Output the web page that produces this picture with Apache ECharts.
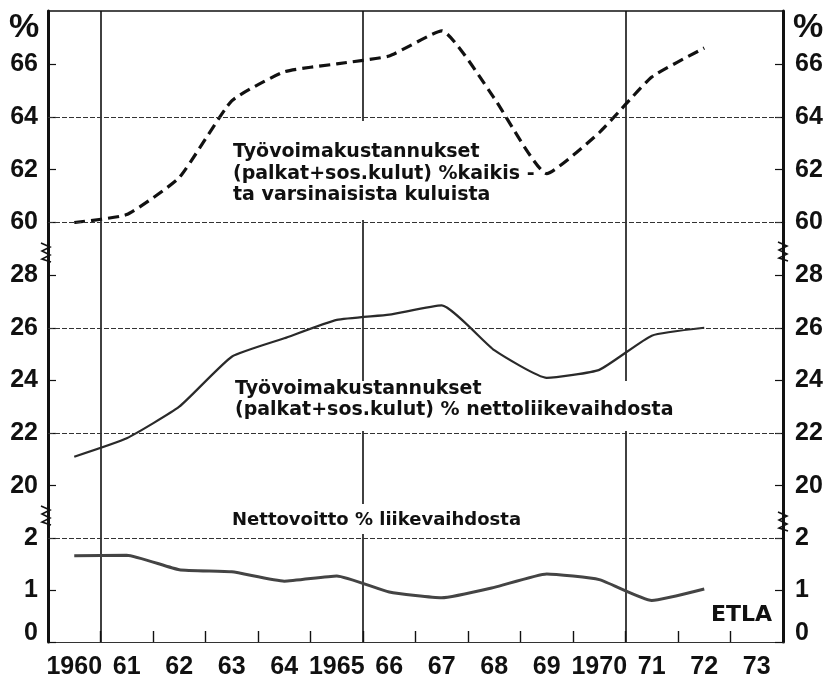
<!DOCTYPE html>
<html>
<head>
<meta charset="utf-8">
<script src="https://cdn.jsdelivr.net/npm/echarts@6/dist/echarts.min.js"></script>
<style>html,body{margin:0;padding:0;background:#fff}#c{width:828px;height:680px}</style>
</head>
<body>
<div id="c"></div>
<script>
// ---- data ----
const years = ['1960','1961','1962','1963','1964','1965','1966','1967','1968','1969','1970','1971','1972','1973'];
const yearLabels = ['1960','61','62','63','64','1965','66','67','68','69','1970','71','72','73'];
const kustannuksetKuluista = [60.0, 60.3, 61.7, 64.6, 65.7, 66.0, 66.3, 67.25, 64.7, 61.85, 63.4, 65.5, 66.6];
const kustannuksetLiikevaihdosta = [21.1, 21.8, 23.0, 24.9, 25.6, 26.3, 26.5, 26.85, 25.15, 24.1, 24.4, 25.7, 26.0];
const nettovoitto = [1.66, 1.67, 1.39, 1.35, 1.17, 1.27, 0.96, 0.85, 1.05, 1.31, 1.2, 0.8, 1.02];
const topTicks = [60, 62, 64, 66];
const midTicks = [20, 22, 24, 26, 28];
const botTicks = [0, 1, 2];
const topGridLines = [60, 64];
const midGridLines = [22, 26];
const botGridLines = [2];
const topRange = [60, 68];
const midRange = [19, 30];
const botRange = [0, 2.5];
const fullYearLines = [1, 6, 11]; // category boundaries with full vertical lines

const chart = echarts.init(document.getElementById('c'), null, {renderer: 'canvas'});
const NUM = '"Liberation Sans","Arial",sans-serif';
const TXT = '"DejaVu Sans",sans-serif';
const INK = '#111';
const NUM_SIZE = 25;

function xAx(gi, opts) {
  return Object.assign({
    type: 'category', gridIndex: gi, data: years, boundaryGap: true,
    axisLine: {show: false}, axisTick: {show: false}, axisLabel: {show: false},
    splitLine: {show: true, interval: (i) => fullYearLines.includes(i), lineStyle: {color: INK, width: 1.6}}
  }, opts);
}
function yAx(gi, pos, range, ticks) {
  return {
    type: 'value', gridIndex: gi, position: pos, min: range[0], max: range[1],
    axisLine: {show: true, onZero: false, lineStyle: {color: INK, width: 3}},
    axisTick: {show: true, inside: true, length: 8, customValues: ticks, lineStyle: {color: INK, width: 1.2}},
    axisLabel: {
      show: true, customValues: ticks, margin: pos === 'left' ? 10 : 12,
      fontFamily: NUM, fontWeight: 'bold', fontSize: NUM_SIZE, color: INK,
      formatter: (v) => (gi === 2 && v === 0) ? '{z|0}' : String(v),
      rich: {z: {fontFamily: NUM, fontWeight: 'bold', fontSize: NUM_SIZE, color: INK, padding: [0, 0, 18, 0]}}
    },
    splitLine: {show: false}
  };
}
function gridMark(vals) {
  return {
    silent: true, symbol: 'none', label: {show: false},
    lineStyle: {color: '#333', width: 1.2, type: [5, 2]},
    data: vals.map(v => ({yAxis: v}))
  };
}

const option = {
  animation: false,
  backgroundColor: '#fff',
  grid: [
    {left: 48, right: 45, top: 11, height: 211.5},
    {left: 48, right: 45, top: 222.5, height: 289.5},
    {left: 48, right: 45, top: 512, height: 133}
  ],
  xAxis: [
    xAx(0, {position: 'top', axisLine: {show: true, lineStyle: {color: INK, width: 1.5}}}),
    xAx(1, {}),
    xAx(2, {
      position: 'bottom',
      axisLine: {show: true, lineStyle: {color: '#333', width: 1.2}},
      axisTick: {show: true, inside: true, length: 11, interval: 0, lineStyle: {color: INK, width: 1.4}},
      axisLabel: {show: true, interval: 0, margin: 13, fontFamily: NUM, fontWeight: 'bold', fontSize: NUM_SIZE, color: INK,
        formatter: (v, i) => yearLabels[i]}
    })
  ],
  yAxis: [
    yAx(0, 'left', topRange, topTicks), yAx(0, 'right', topRange, topTicks),
    yAx(1, 'left', midRange, midTicks), yAx(1, 'right', midRange, midTicks),
    yAx(2, 'left', botRange, botTicks), yAx(2, 'right', botRange, botTicks)
  ],
  series: [
    {type: 'line', xAxisIndex: 0, yAxisIndex: 0, data: kustannuksetKuluista, symbol: 'none', smooth: 0.15,
     lineStyle: {color: INK, width: 3.2, type: [11, 6]}, markLine: gridMark(topGridLines), z: 3},
    {type: 'line', xAxisIndex: 1, yAxisIndex: 2, data: kustannuksetLiikevaihdosta, symbol: 'none', smooth: 0.15,
     lineStyle: {color: '#2a2a2a', width: 2.2}, markLine: gridMark(midGridLines), z: 3},
    {type: 'line', xAxisIndex: 2, yAxisIndex: 4, data: nettovoitto, symbol: 'none', smooth: 0.15,
     lineStyle: {color: '#444', width: 3}, markLine: gridMark(botGridLines), z: 3}
  ],
  graphic: [
    // white areas behind the annotation texts
    {type: 'rect', z: 50, shape: {x: 228, y: 121, width: 268, height: 99}, style: {fill: '#fff'}},
    {type: 'rect', z: 50, shape: {x: 228, y: 381, width: 462, height: 50}, style: {fill: '#fff'}},
    {type: 'rect', z: 50, shape: {x: 228, y: 504, width: 326, height: 30}, style: {fill: '#fff'}},
    {type: 'text', z: 60, style: {x: 233, y: 152, text: 'Työvoimakustannukset', font: 'bold 19px ' + TXT, fill: INK, verticalAlign: 'middle'}},
    {type: 'text', z: 60, style: {x: 233, y: 174, text: '(palkat+sos.kulut) %kaikis -', font: 'bold 19px ' + TXT, fill: INK, verticalAlign: 'middle'}},
    {type: 'text', z: 60, style: {x: 233, y: 195, text: 'ta varsinaisista kuluista', font: 'bold 19px ' + TXT, fill: INK, verticalAlign: 'middle'}},
    {type: 'text', z: 60, style: {x: 235, y: 389, text: 'Työvoimakustannukset', font: 'bold 19px ' + TXT, fill: INK, verticalAlign: 'middle'}},
    {type: 'text', z: 60, style: {x: 235, y: 410, text: '(palkat+sos.kulut) % nettoliikevaihdosta', font: 'bold 19px ' + TXT, fill: INK, verticalAlign: 'middle'}},
    {type: 'text', z: 60, style: {x: 232, y: 520, text: 'Nettovoitto % liikevaihdosta', font: 'bold 18px ' + TXT, fill: INK, verticalAlign: 'middle'}},
    {type: 'text', z: 60, style: {x: 772, y: 615, text: 'ETLA', font: 'bold 22px ' + TXT, fill: INK, align: 'right', verticalAlign: 'middle'}},
    {type: 'text', z: 60, style: {x: 24, y: 28, text: '%', font: 'bold 34px ' + NUM, fill: INK, align: 'center', verticalAlign: 'middle'}},
    {type: 'text', z: 60, style: {x: 808, y: 28, text: '%', font: 'bold 34px ' + NUM, fill: INK, align: 'center', verticalAlign: 'middle'}},
    // axis break marks
    ...[[46, 252], [46, 515], [783, 251], [783, 521]].map(([x, y]) => ({
      type: 'polyline', z: 60,
      shape: {points: [[x - 5, y - 9], [x + 4, y - 5], [x - 4, y - 1], [x + 4, y + 3], [x - 4, y + 7], [x + 5, y + 10]]},
      style: {stroke: INK, lineWidth: 1.6, fill: null}
    }))
  ]
};
chart.setOption(option);
</script>
</body>
</html>
